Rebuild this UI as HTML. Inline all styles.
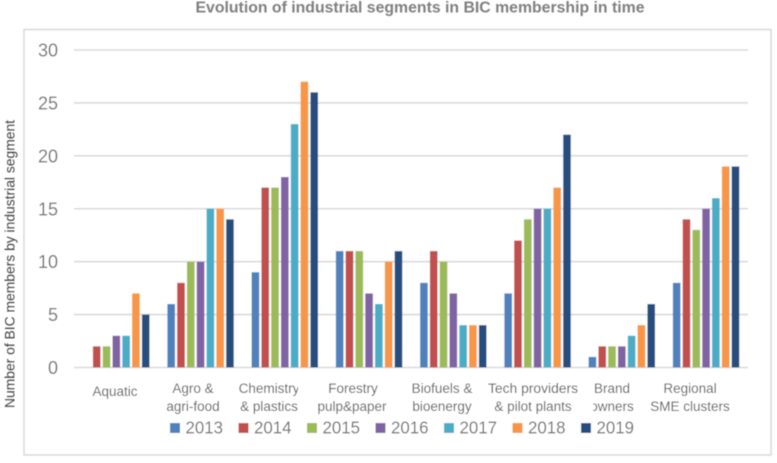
<!DOCTYPE html>
<html lang="en">
<head>
<meta charset="utf-8">
<title>Evolution of industrial segments in BIC membership in time</title>
<style>
html,body{margin:0;padding:0;background:#fff;width:777px;height:463px;overflow:hidden}
svg{display:block;font-family:"Liberation Sans",sans-serif}
.cat{font-size:13.5px;fill:#595959;text-anchor:middle}
.leg{font-size:17.5px;fill:#6f6f6f}
</style>
</head>
<body>
<svg id="chart" width="777" height="463" viewBox="0 0 777 463" xmlns="http://www.w3.org/2000/svg">
<defs>
<filter id="soft" x="-2%" y="-2%" width="104%" height="104%"><feGaussianBlur stdDeviation="0.4"/></filter>
<clipPath id="clip-chem"><rect x="230" y="375" width="68" height="40"/></clipPath>
<clipPath id="clip-forest"><rect x="310" y="375" width="78" height="40"/></clipPath>
<clipPath id="clip-owners"><rect x="593" y="397" width="50" height="18"/></clipPath>
</defs>
<g filter="url(#soft)">
<rect x="24" y="29.5" width="747" height="425.5" fill="#fff" stroke="#d9d9d9" stroke-width="1.5"/>
<text x="420" y="12.5" text-anchor="middle" font-size="15.5" font-weight="bold" fill="#7f7f7f" textLength="449" lengthAdjust="spacingAndGlyphs">Evolution of industrial segments in BIC membership in time</text>
<text transform="translate(14.5,264) rotate(-90)" text-anchor="middle" font-size="14" fill="#404040" textLength="288" lengthAdjust="spacingAndGlyphs">Number of BIC members by industrial segment</text>
<g id="grid"></g>
<g id="bars"></g>
<g>
<text class="cat" x="115" y="396">Aquatic</text>
<text class="cat" x="193" y="393">Agro &amp;</text>
<text class="cat" x="193" y="411">agri-food</text>
<g clip-path="url(#clip-chem)">
<text class="cat" x="269" y="393">Chemistry</text>
<text class="cat" x="269" y="411">&amp; plastics</text>
</g>
<g clip-path="url(#clip-forest)">
<text class="cat" x="353" y="393">Forestry</text>
<text class="cat" x="352" y="411">pulp&amp;paper</text>
</g>
<text class="cat" x="442" y="393">Biofuels &amp;</text>
<text class="cat" x="442" y="411">bioenergy</text>
<text class="cat" x="533" y="393" textLength="90" lengthAdjust="spacingAndGlyphs">Tech providers</text>
<text class="cat" x="533" y="411">&amp; pilot plants</text>
<text class="cat" x="612" y="393">Brand</text>
<g clip-path="url(#clip-owners)">
<text class="cat" x="612" y="411">owners</text>
</g>
<text class="cat" x="690" y="393">Regional</text>
<text class="cat" x="690" y="411">SME clusters</text>
</g>
<g id="legend"></g>
</g>
</svg>
<script>
const categories = ["Aquatic", "Agro & agri-food", "Chemistry & plastics", "Forestry pulp&paper", "Biofuels & bioenergy", "Tech providers & pilot plants", "Brand owners", "Regional SME clusters"];
const seriesNames = ["2013", "2014", "2015", "2016", "2017", "2018", "2019"];
const seriesColors = ["#4f81bd", "#c0504d", "#9bbb59", "#8064a2", "#4bacc6", "#f79646", "#254e7e"];
const values2013 = [0, 6, 9, 11, 8, 7, 1, 8];
const values2014 = [2, 8, 17, 11, 11, 12, 2, 14];
const values2015 = [2, 10, 17, 11, 10, 14, 2, 13];
const values2016 = [3, 10, 18, 7, 7, 15, 2, 15];
const values2017 = [3, 15, 23, 6, 4, 15, 3, 16];
const values2018 = [7, 15, 27, 10, 4, 17, 4, 19];
const values2019 = [5, 14, 26, 11, 4, 22, 6, 19];
const yTicks = [0, 5, 10, 15, 20, 25, 30];

const allSeries = [values2013, values2014, values2015, values2016, values2017, values2018, values2019];
const NS = "http://www.w3.org/2000/svg";
const plot = { left: 74, right: 748, top: 50, bottom: 367.5 };
const yMax = yTicks[yTicks.length - 1];
const barPitch = 9.8;
const barWidth = 7.6;
function xBand(i) { return plot.left + (plot.right - plot.left) * (i + 0.5) / categories.length; }
function xBar(i, s) { return xBand(i) - 33 + s * barPitch; }
function yScale(v) { return plot.bottom - (plot.bottom - plot.top) * v / yMax; }
function mk(tag, attrs, parent) {
  const el = document.createElementNS(NS, tag);
  for (const k in attrs) el.setAttribute(k, attrs[k]);
  parent.appendChild(el);
  return el;
}
const grid = document.getElementById("grid");
yTicks.forEach(function (t) {
  const line = mk("line", { x1: plot.left, x2: plot.right, y1: yScale(t), y2: yScale(t), stroke: "#d9d9d9", "stroke-width": 1.6 }, grid);
  
  
  const label = mk("text", { x: 58, y: yScale(t) + 6.5, "text-anchor": "end", "font-size": 18, fill: "#707070" }, grid);
  
  
  label.textContent = t;
});
const barsGroup = document.getElementById("bars");
allSeries.forEach(function (vals, s) {
  vals.forEach(function (v, i) {
    if (v <= 0) return;
    const bar = mk("rect", { x: xBar(i, s), y: yScale(v), width: barWidth, height: plot.bottom - yScale(v), fill: seriesColors[s] }, barsGroup);
    
    
  });
});
const legend = document.getElementById("legend");
seriesNames.forEach(function (name, s) {
  const lx = 170 + s * 68.5;
  const swatch = mk("rect", { x: lx, y: 423, width: 10, height: 10, fill: seriesColors[s] }, legend);
  
  
  const label = mk("text", { x: lx + 15.5, y: 433.5, class: "leg", textLength: 37.5, lengthAdjust: "spacingAndGlyphs" }, legend);
  
  
  label.textContent = name;
});
</script>
</body>
</html>
